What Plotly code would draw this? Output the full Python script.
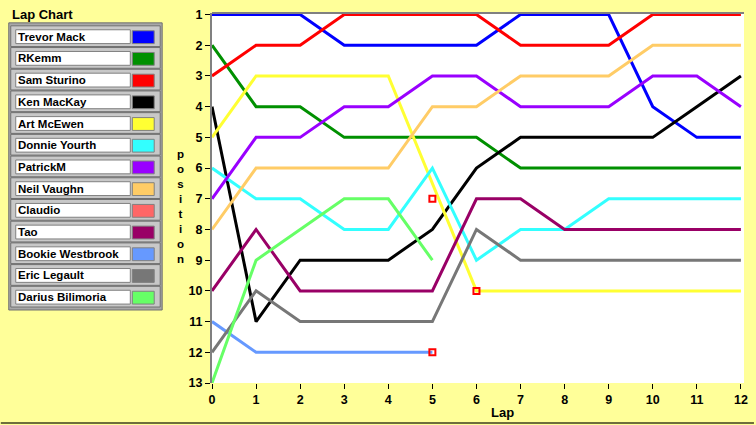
import plotly.graph_objects as go

laps = list(range(13))

drivers = ["Trevor Mack", "RKemm", "Sam Sturino", "Ken MacKay", "Art McEwen",
           "Donnie Yourth", "PatrickM", "Neil Vaughn", "Claudio", "Tao",
           "Bookie Westbrook", "Eric Legault", "Darius Bilimoria"]
colors = ["#0000FF", "#009000", "#FF0000", "#000000", "#FFFF33",
          "#33FFFF", "#9900FF", "#FFCC66", "#FF6666", "#990066",
          "#6699FF", "#777777", "#66FF66"]

trevor_mack = [1, 1, 1, 2, 2, 2, 2, 1, 1, 1, 4, 5, 5]
rkemm = [2, 4, 4, 5, 5, 5, 5, 6, 6, 6, 6, 6, 6]
sam_sturino = [3, 2, 2, 1, 1, 1, 1, 2, 2, 2, 1, 1, 1]
ken_mackay = [4, 11, 9, 9, 9, 8, 6, 5, 5, 5, 5, 4, 3]
art_mcewen = [5, 3, 3, 3, 3, None, 10, 10, 10, 10, 10, 10, 10]
donnie_yourth = [6, 7, 7, 8, 8, 6, 9, 8, 8, 7, 7, 7, 7]
patrickm = [7, 5, 5, 4, 4, 3, 3, 4, 4, 4, 3, 3, 4]
neil_vaughn = [8, 6, 6, 6, 6, 4, 4, 3, 3, 3, 2, 2, 2]
claudio = [None] * 13
tao = [10, 8, 10, 10, 10, 10, 7, 7, 8, 8, 8, 8, 8]
bookie_westbrook = [11, 12, 12, 12, 12, 12]
eric_legault = [12, 10, 11, 11, 11, 11, 8, 9, 9, 9, 9, 9, 9]
darius_bilimoria = [13, 9, 8, 7, 7, 9]

positions = [trevor_mack, rkemm, sam_sturino, ken_mackay, art_mcewen,
             donnie_yourth, patrickm, neil_vaughn, claudio, tao,
             bookie_westbrook, eric_legault, darius_bilimoria]

# red square flags
flag_laps = [5, 6, 5]
flag_pos = [7, 10, 12]

W, H = 756, 425
L, R, T, B = 212, 10, 8, 42
PW, PH = W - L - R, H - T - B
FONT = "Liberation Sans"


def px(x):
    return (x - L) / PW


def py(y):
    return (H - B - y) / PH


fig = go.Figure()
for name, col, pos in zip(drivers, colors, positions):
    fig.add_trace(go.Scatter(x=laps[:len(pos)], y=pos, mode="lines", name=name,
                             line=dict(color=col, width=3), connectgaps=True,
                             showlegend=False))

fig.add_trace(go.Scatter(x=flag_laps, y=flag_pos, mode="markers", showlegend=False,
                         marker=dict(symbol="square-open", size=6, color="#FF0000",
                                     line=dict(width=2, color="#FF0000"))))

shapes = []
annotations = []

# legend panel
shapes.append(dict(type="rect", xref="paper", yref="paper",
                   x0=px(8), x1=px(162), y0=py(309), y1=py(18),
                   fillcolor="#A8A8A8", line=dict(color="#707070", width=1)))
for i, (name, col) in enumerate(zip(drivers, colors)):
    top = 21 + i * 22
    shapes.append(dict(type="rect", xref="paper", yref="paper",
                       x0=px(10), x1=px(160), y0=py(top + 21), y1=py(top),
                       fillcolor="#C8C8C8", line=dict(color="#707070", width=1)))
    shapes.append(dict(type="rect", xref="paper", yref="paper",
                       x0=px(15), x1=px(130), y0=py(top + 18), y1=py(top + 4),
                       fillcolor="#FFFFFF", line=dict(color="#808080", width=1)))
    shapes.append(dict(type="rect", xref="paper", yref="paper",
                       x0=px(132), x1=px(154), y0=py(top + 18), y1=py(top + 5),
                       fillcolor=col, line=dict(color="#808080", width=1)))
    annotations.append(dict(text="<b>" + name + "</b>", xref="paper", yref="paper",
                            x=px(15), y=py(top + 11), xanchor="left", yanchor="middle",
                            showarrow=False, font=dict(family=FONT, size=11.5, color="#000000")))

# top border of plot, bottom window edge
shapes.append(dict(type="line", xref="paper", yref="paper", x0=0, x1=1, y0=1, y1=1,
                   line=dict(color="#808080", width=2)))
shapes.append(dict(type="line", xref="paper", yref="paper", x0=px(0), x1=px(W),
                   y0=py(423.5), y1=py(423.5), line=dict(color="#6E6E3C", width=2)))

annotations.append(dict(text="<b>Lap Chart</b>", xref="paper", yref="paper",
                        x=px(9), y=py(10), xanchor="left", yanchor="middle",
                        showarrow=False, font=dict(family=FONT, size=13, color="#000000")))
annotations.append(dict(text="<b>" + "<br>".join("position") + "</b>",
                        xref="paper", yref="paper", x=px(180), y=py(204),
                        xanchor="center", yanchor="middle", showarrow=False,
                        font=dict(family=FONT, size=11.5, color="#000000")))
annotations.append(dict(text="<b>Lap</b>", xref="paper", yref="paper",
                        x=px(504), y=py(413), xanchor="center", yanchor="middle",
                        showarrow=False, font=dict(family=FONT, size=13, color="#000000")))

fig.update_layout(
    width=W, height=H,
    margin=dict(l=L, r=R, t=T, b=B),
    paper_bgcolor="#FFFF99",
    plot_bgcolor="#FFFFFF",
    font=dict(family=FONT, size=12, color="#000000"),
    shapes=shapes,
    annotations=annotations,
    xaxis=dict(range=[0, 12.07], tickmode="linear", tick0=0, dtick=1, showgrid=False,
               zeroline=False, ticks="outside", ticklen=5, tickcolor="#000000",
               tickfont=dict(size=12.5), tickprefix="<b>", ticksuffix="</b>"),
    yaxis=dict(range=[13, 0.95], tickmode="linear", tick0=1, dtick=1, showgrid=False,
               zeroline=False, ticks="outside", ticklen=5, tickcolor="#000000",
               showline=True, linecolor="#808080", linewidth=2,
               tickfont=dict(size=12.5), tickprefix="<b>", ticksuffix="</b>"),
)

fig.write_html("out.html", config={"displayModeBar": False},
               post_script="document.body.style.margin='0';document.body.style.padding='0';")
